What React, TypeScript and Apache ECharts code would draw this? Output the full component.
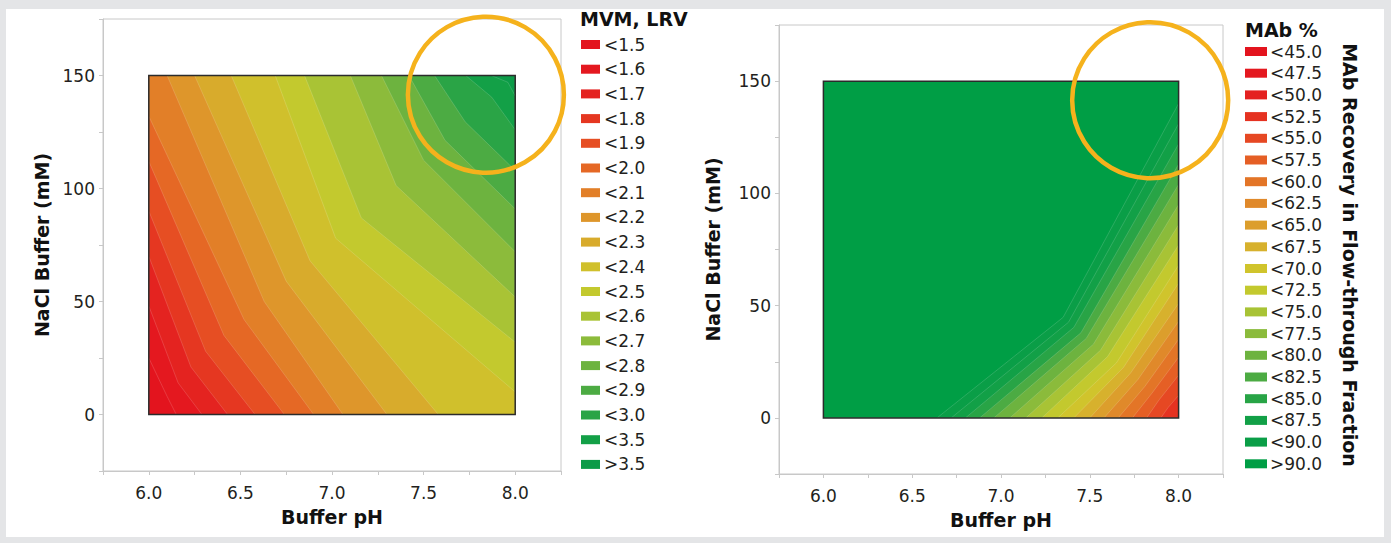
import React, { useEffect, useRef } from 'react';
import * as echarts from 'echarts';

const FONT = '"DejaVu Sans", "Liberation Sans", Arial, sans-serif';
const INK = '#231f20';

// ---- shared axes ----
const phDomain = [6.0, 8.0];
const naclDomain = [0, 150];
const phAxisRange = [5.75, 8.25];
const naclAxisRange = [-25, 175];
const phTickLabels = [6.0, 6.5, 7.0, 7.5, 8.0];
const naclTickLabels = [0, 50, 100, 150];
const highlightCenter = [7.84, 141.5];

// ---- left chart: MVM, LRV ----
const mvmLabels = ['<1.5', '<1.6', '<1.7', '<1.8', '<1.9', '<2.0', '<2.1', '<2.2', '<2.3', '<2.4', '<2.5', '<2.6', '<2.7', '<2.8', '<2.9', '<3.0', '<3.5', '>3.5'];
const mvmThresholds = [1.5, 1.6, 1.7, 1.8, 1.9, 2.0, 2.1, 2.2, 2.3, 2.4, 2.5, 2.6, 2.7, 2.8, 2.9, 3.0, 3.5];
const mvmColors = ['#e3141e', '#e4181f', '#e42320', '#e53721', '#e64e23', '#e56825', '#e27f28', '#de962b', '#d8ab2c', '#d0c02c', '#c3c92e', '#a9c335', '#8cbb3b', '#6db33f', '#4cab43', '#2aa446', '#13a047', '#0c9b48'];
// isolines (one per threshold): start edge point, bend point, end edge point  [pH, NaCl]
const mvmLineStart = [[6, 25], [6, 48], [6, 70], [6, 90], [6, 112], [6, 132], [6.10, 150], [6.25, 150], [6.45, 150], [6.69, 150], [6.85, 150], [7.10, 150], [7.27, 150], [7.42, 150], [7.56, 150], [7.73, 150], [7.87, 150]];
const mvmLineBend = [[6.10, 8], [6.16, 14], [6.23, 21], [6.31, 28], [6.41, 35], [6.52, 42], [6.63, 50], [6.75, 59], [6.88, 68], [7.02, 78], [7.16, 87.0], [7.35, 101.3], [7.50, 112.5], [7.617, 121.3], [7.727, 129.5], [7.872, 140.4], [7.96, 147.0]];
const mvmLineEnd = [[6.15, 0], [6.29, 0], [6.43, 0], [6.58, 0], [6.74, 0], [6.90, 0], [7.06, 0], [7.30, 0], [7.58, 0], [8, 10], [8, 32], [8, 52], [8, 72], [8, 91], [8, 108], [8, 126], [8, 141]];

// ---- right chart: MAb % ----
const mabLabels = ['<45.0', '<47.5', '<50.0', '<52.5', '<55.0', '<57.5', '<60.0', '<62.5', '<65.0', '<67.5', '<70.0', '<72.5', '<75.0', '<77.5', '<80.0', '<82.5', '<85.0', '<87.5', '<90.0', '>90.0'];
const mabThresholds = [45, 47.5, 50, 52.5, 55, 57.5, 60, 62.5, 65, 67.5, 70, 72.5, 75, 77.5, 80, 82.5, 85, 87.5, 90];
const mabColors = ['#e3141e', '#e4181f', '#e42120', '#e53221', '#e64823', '#e55f25', '#e37527', '#e0892a', '#dc9e2c', '#d7b12d', '#d0c42c', '#c3c92e', '#a8c335', '#8bbb3b', '#6db33f', '#4cab43', '#28a446', '#12a047', '#0a9e47', '#009e45'];
// isolines: level, pH where it leaves the bottom edge, bend point, NaCl where it meets the right edge
const mabLineLevel = [52.5, 55.0, 57.5, 60.0, 62.5, 65.0, 67.5, 70.0, 72.5, 75.0, 77.5, 80.0, 82.5, 85.0, 87.5, 90.0];
const mabLineStart = [7.90, 7.82, 7.74, 7.66, 7.58, 7.50, 7.41, 7.32, 7.23, 7.14, 7.05, 6.96, 6.88, 6.80, 6.72, 6.64];
const mabLineBend = [[7.94, 4.5], [7.89, 8], [7.85, 11], [7.81, 14], [7.77, 17], [7.73, 20], [7.69, 22.5], [7.65, 24.5], [7.60, 27.3], [7.56, 30.1], [7.52, 32.8], [7.48, 35.4], [7.45, 37.9], [7.41, 40.3], [7.38, 42.6], [7.35, 44.8]];
const mabLineEnd = [10, 19, 27, 35, 43, 51, 60, 68, 77, 86, 95, 104, 113, 122, 131, 140];

// ---------------------------------------------------------------
const mvmLines = mvmLineStart.map((s, k) => [s, mvmLineBend[k], mvmLineEnd[k]]);
const mabLines = mabLineStart.map((s, k) => [[s, naclDomain[0]], mabLineBend[k], [phDomain[1], mabLineEnd[k]]]);

const rectCorners = () => [
  [phDomain[0], naclDomain[0]],
  [phDomain[1], naclDomain[0]],
  [phDomain[1], naclDomain[1]],
  [phDomain[0], naclDomain[1]],
];

function edgeParam(p: number[]) {
  const [x, y] = p;
  const w = phDomain[1] - phDomain[0];
  const h = naclDomain[1] - naclDomain[0];
  const e = 1e-6;
  if (Math.abs(y - naclDomain[0]) < e) return (x - phDomain[0]) / w;
  if (Math.abs(x - phDomain[1]) < e) return 1 + (y - naclDomain[0]) / h;
  if (Math.abs(y - naclDomain[1]) < e) return 2 + (phDomain[1] - x) / w;
  return 3 + (naclDomain[1] - y) / h;
}

// polygon of the high-value side of an isoline (walk the frame counter-clockwise)
function highSide(line: number[][]) {
  const corners = rectCorners();
  const tStart = edgeParam(line[0]);
  const tEnd = edgeParam(line[line.length - 1]);
  let ts = tStart;
  if (ts <= tEnd) ts += 4;
  const pts = line.slice();
  for (let c = Math.floor(tEnd) + 1; c < ts; c++) pts.push(corners[c % 4]);
  return pts;
}

function makePieces(labels: string[], thresholds: number[], colors: string[]) {
  return labels.map((label, i) => {
    const p: any = { label, color: colors[i] };
    if (i > 0) p.gte = thresholds[i - 1];
    if (i < thresholds.length) p.lt = thresholds[i];
    return p;
  });
}

const mvmData = [[-1, mvmThresholds[0] - 0.05], ...mvmThresholds.map((t, k) => [k, t])];
const mabBaseIdx = mabThresholds.indexOf(mabLineLevel[0]);
const mabData = [[-1, mabBaseIdx > 0 ? mabThresholds[mabBaseIdx - 1] : mabLineLevel[0] - 1], ...mabLineLevel.map((t, k) => [k, t])];

const contourRender = (lines: number[][][]) => (params: any, api: any) => {
  const idx = api.value(0);
  const pts = idx < 0 ? rectCorners() : highSide(lines[idx]);
  return {
    type: 'polygon',
    silent: true,
    shape: { points: pts.map((p) => api.coord(p)) },
    style: { fill: api.visual('color'), stroke: 'rgba(255,255,255,0.22)', lineWidth: 0.7 },
  };
};

const frameRender = (params: any, api: any) => {
  const tl = api.coord([phDomain[0], naclDomain[1]]);
  const br = api.coord([phDomain[1], naclDomain[0]]);
  const c = api.coord([api.value(0), api.value(1)]);
  return {
    type: 'group',
    silent: true,
    children: [
      { type: 'rect', shape: { x: tl[0], y: tl[1], width: br[0] - tl[0], height: br[1] - tl[1] }, style: { fill: 'none', stroke: '#2b2b2b', lineWidth: 1.5 } },
      { type: 'circle', shape: { cx: c[0], cy: c[1], r: 78 }, style: { fill: 'none', stroke: '#f5b21c', lineWidth: 4.5 } },
    ],
  };
};

const near = (list: number[], v: number) => list.some((t) => Math.abs(t - v) < 1e-6);

const axisLineStyle = { color: '#c8c8c8', width: 1 };
const nameStyle = { fontFamily: FONT, fontWeight: 'bold', fontSize: 19, color: '#111111' };
const labelStyle = { fontFamily: FONT, fontSize: 17, color: INK };

const makeX = (gridIndex: number) => ({
  type: 'value',
  gridIndex,
  min: phAxisRange[0],
  max: phAxisRange[1],
  interval: 0.25,
  name: 'Buffer pH',
  nameLocation: 'middle',
  nameGap: 36,
  nameTextStyle: nameStyle,
  axisLine: { show: true, onZero: false, lineStyle: axisLineStyle },
  axisTick: { show: true, length: 4, lineStyle: axisLineStyle },
  axisLabel: { ...labelStyle, margin: 13, interval: 0, formatter: (v: number) => (near(phTickLabels, v) ? v.toFixed(1) : '') },
  splitLine: { show: false },
});

const makeY = (gridIndex: number, gap: number) => ({
  type: 'value',
  gridIndex,
  min: naclAxisRange[0],
  max: naclAxisRange[1],
  interval: 25,
  name: 'NaCl Buffer (mM)',
  nameLocation: 'middle',
  nameGap: gap,
  nameTextStyle: nameStyle,
  axisLine: { show: true, onZero: false, lineStyle: axisLineStyle },
  axisTick: { show: true, length: 4, lineStyle: axisLineStyle },
  axisLabel: { ...labelStyle, margin: 8, interval: 0, formatter: (v: number) => (near(naclTickLabels, v) ? String(Math.round(v)) : '') },
  splitLine: { show: false },
});

const option: any = {
  animation: false,
  textStyle: { fontFamily: FONT },
  title: [
    { text: 'MVM, LRV', left: 580, top: 9, padding: 0, textStyle: { fontFamily: FONT, fontWeight: 'bold', fontSize: 19, color: '#111111' } },
    { text: 'MAb %', left: 1245, top: 20, padding: 0, textStyle: { fontFamily: FONT, fontWeight: 'bold', fontSize: 19, color: '#111111' } },
  ],
  graphic: [
    {
      type: 'text',
      x: 1350,
      y: 255,
      rotation: -Math.PI / 2,
      silent: true,
      style: { text: 'MAb Recovery in Flow-through Fraction', fontFamily: FONT, fontWeight: 'bold', fontSize: 19, fill: '#111111', align: 'center', verticalAlign: 'middle' },
    },
  ],
  grid: [
    { left: 103, top: 19, width: 458, height: 452, show: true, borderColor: '#c8c8c8', borderWidth: 1, backgroundColor: 'transparent' },
    { left: 779, top: 25, width: 444, height: 449, show: true, borderColor: '#c8c8c8', borderWidth: 1, backgroundColor: 'transparent' },
  ],
  xAxis: [makeX(0), makeX(1)],
  yAxis: [makeY(0, 52), makeY(1, 57)],
  visualMap: [
    {
      type: 'piecewise',
      seriesIndex: 0,
      dimension: 1,
      pieces: makePieces(mvmLabels, mvmThresholds, mvmColors),
      orient: 'vertical',
      inverse: true,
      align: 'left',
      left: 581,
      top: 36,
      padding: 0,
      itemWidth: 19,
      itemHeight: 9,
      itemGap: 7.7,
      itemSymbol: 'rect',
      textGap: 4,
      selectedMode: false,
      hoverLink: false,
      textStyle: { ...labelStyle },
    },
    {
      type: 'piecewise',
      seriesIndex: 2,
      dimension: 1,
      pieces: makePieces(mabLabels, mabThresholds, mabColors),
      orient: 'vertical',
      inverse: true,
      align: 'left',
      left: 1245,
      top: 43,
      padding: 0,
      itemWidth: 22,
      itemHeight: 9,
      itemGap: 4.7,
      itemSymbol: 'rect',
      textGap: 3,
      selectedMode: false,
      hoverLink: false,
      textStyle: { ...labelStyle },
    },
  ],
  series: [
    { type: 'custom', xAxisIndex: 0, yAxisIndex: 0, data: mvmData, renderItem: contourRender(mvmLines), silent: true, clip: false },
    { type: 'custom', xAxisIndex: 0, yAxisIndex: 0, data: [highlightCenter], renderItem: frameRender, silent: true, clip: false },
    { type: 'custom', xAxisIndex: 1, yAxisIndex: 1, data: mabData, renderItem: contourRender(mabLines), silent: true, clip: false },
    { type: 'custom', xAxisIndex: 1, yAxisIndex: 1, data: [highlightCenter], renderItem: frameRender, silent: true, clip: false },
  ],
};

export default function App() {
  const ref = useRef<HTMLDivElement>(null);
  useEffect(() => {
    document.body.style.margin = '0';
    const chart = echarts.init(ref.current as HTMLDivElement, null, { renderer: 'svg' });
    chart.setOption(option);
    return () => chart.dispose();
  }, []);
  return (
    <div style={{ position: 'relative', width: 1391, height: 543, background: '#e4e5e7', overflow: 'hidden' }}>
      <div style={{ position: 'absolute', left: 6, top: 9, width: 1378, height: 528, background: '#ffffff' }} />
      <div ref={ref} style={{ position: 'absolute', left: 0, top: 0, width: 1391, height: 543 }} />
    </div>
  );
}
